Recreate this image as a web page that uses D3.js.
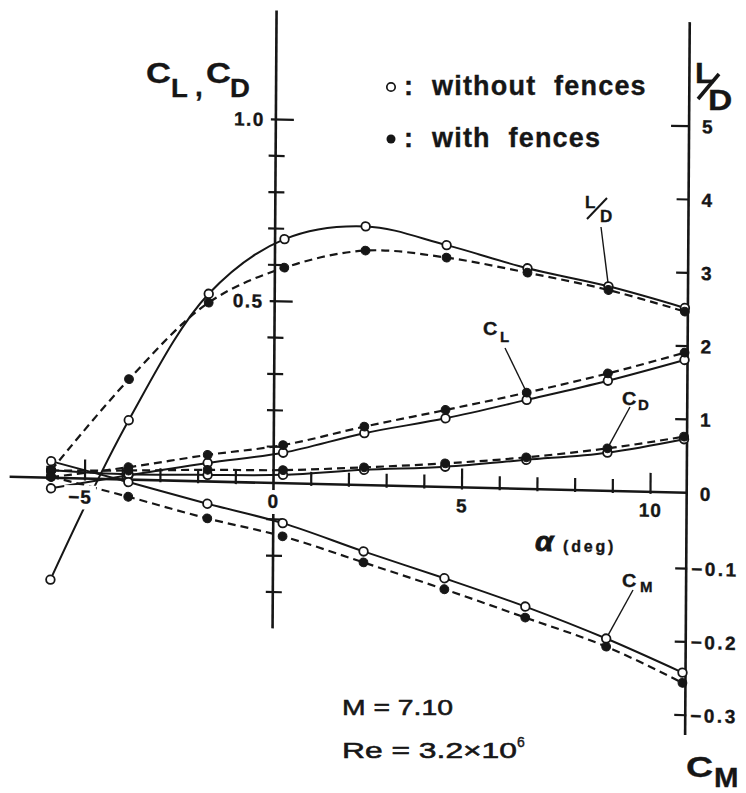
<!DOCTYPE html>
<html>
<head>
<meta charset="utf-8">
<script src="https://cdn.jsdelivr.net/npm/d3@7"></script>
<style>
  html, body { margin: 0; padding: 0; background: #fff; }
  svg { display: block; }
  text { font-family: "Liberation Sans", Arial, Helvetica, sans-serif; fill: #161616; stroke: #161616; stroke-width: 0.35; }
</style>
</head>
<body>
<svg id="chart" width="746" height="793"></svg>
<script>
// Angle of attack (deg) at which each run was taken
const alpha = [-5.9, -3.85, -1.75, 0.25, 2.4, 4.55, 6.7, 8.85, 10.88];

// Lift coefficient
const clWithout = [-0.029, 0.012, 0.051, 0.084, 0.143, 0.189, 0.245, 0.303, 0.365];
const clWith    = [0.002, 0.034, 0.073, 0.105, 0.161, 0.212, 0.265, 0.323, 0.385];
// Drag coefficient
const cdWithout = [0.021, 0.015, 0.018, 0.023, 0.042, 0.056, 0.080, 0.105, 0.147];
const cdWith    = [0.020, 0.025, 0.032, 0.036, 0.049, 0.065, 0.087, 0.117, 0.154];
// Lift-to-drag ratio
const ldWithout = [-1.39, 0.81, 2.56, 3.33, 3.53, 3.30, 3.01, 2.79, 2.52];
const ldWith    = [0.10, 1.37, 2.44, 2.94, 3.20, 3.13, 2.95, 2.74, 2.47];
// Pitching-moment coefficient
const cmWithout = [0.026, 0.000, -0.027, -0.051, -0.087, -0.121, -0.157, -0.198, -0.242];
const cmWith    = [0.005, -0.020, -0.047, -0.069, -0.102, -0.136, -0.172, -0.209, -0.256];

// Axis ticks and labels
const alphaTicks = [-6, -5, -4, -3, -2, -1, 1, 2, 3, 4, 5, 6, 7, 8, 9, 10];
const alphaMajor = [-5, 5, 10];
const alphaLabels = [-5, 0, 5, 10];
const coefTicks = [-0.3, -0.2, -0.1, 0.1, 0.2, 0.3, 0.4, 0.5, 0.6, 0.7, 0.8, 0.9, 1.0];
const coefLabels = [0.5, 1.0];
const ldTicks = [1, 2, 3, 4, 5];
const cmTicks = [-0.1, -0.2, -0.3];

const svg = d3.select('#chart');

// The drawing is laid out on a slightly skewed frame: origin at the
// intersection of the alpha axis and the C_L,C_D axis.
const origin = [273.5, 483];
const skB = 0.0235;   // slope of the alpha axis
const skC = -0.0065;  // lean of the vertical axes
function toLocal(X, Y) {
  const dx = X - origin[0], dy = Y - origin[1], det = 1 - skB * skC;
  return [(dx - skC * dy) / det, (dy - skB * dx) / det];
}

const x = d3.scaleLinear().domain([0, 10]).range([0, 377]);
const yC = d3.scaleLinear().domain([0, 1]).range([0, -363.5]);
const yLD = d3.scaleLinear().domain([0, 5]).range([0, -366.5]);
const yCM = d3.scaleLinear().domain([0, -0.3]).range([2.5, 222.5]);
const xRight = x(10.96);

const g = svg.append('g')
  .attr('transform', `translate(${origin[0]},${origin[1]}) matrix(1,${skB},${skC},1,0,0)`);

const ink = '#161616';

// ---- axes ----
const axes = g.append('g').attr('stroke', ink).attr('stroke-width', 2.6).attr('fill', 'none');
axes.append('line').attr('x1', x(-7.0)).attr('x2', xRight).attr('y1', 0).attr('y2', 0);
axes.append('line').attr('x1', 0).attr('x2', 0).attr('y1', yC(1.30)).attr('y2', yC(-0.40));
axes.append('line').attr('x1', xRight).attr('x2', xRight).attr('y1', yLD(6.42)).attr('y2', yCM(-0.327));

const ticks = g.append('g').attr('stroke', ink).attr('stroke-width', 2.2);
alphaTicks.forEach(t => {
  const major = alphaMajor.includes(t);
  ticks.append('line').attr('x1', x(t)).attr('x2', x(t)).attr('y1', 2).attr('y2', major ? -19 : -12);
});
coefTicks.forEach(t => {
  const major = coefLabels.some(l => Math.abs(l - t) < 1e-9);
  ticks.append('line').attr('y1', yC(t)).attr('y2', yC(t))
    .attr('x1', major ? -5 : -7).attr('x2', major ? 18 : 9);
});
ldTicks.forEach(t => {
  ticks.append('line').attr('y1', yLD(t)).attr('y2', yLD(t))
    .attr('x1', xRight - (t === 5 ? 18 : 12)).attr('x2', xRight);
});
cmTicks.forEach(t => {
  ticks.append('line').attr('y1', yCM(t)).attr('y2', yCM(t))
    .attr('x1', xRight - 11).attr('x2', xRight + 1);
});

// ---- curves ----
const series = [
  { vals: clWithout, scale: yC, filled: false, curve: d3.curveMonotoneX },
  { vals: clWith,    scale: yC, filled: true,  curve: d3.curveMonotoneX },
  { vals: cdWithout, scale: yC, filled: false, curve: d3.curveMonotoneX },
  { vals: cdWith,    scale: yC, filled: true,  curve: d3.curveMonotoneX },
  { vals: ldWithout, scale: yLD, filled: false, curve: d3.curveCatmullRom.alpha(0.5) },
  { vals: ldWith,    scale: yLD, filled: true,  curve: d3.curveCatmullRom.alpha(0.5) },
  { vals: cmWithout, scale: yCM, filled: false, curve: d3.curveMonotoneX },
  { vals: cmWith,    scale: yCM, filled: true,  curve: d3.curveMonotoneX }
];

const lineLayer = g.append('g').attr('fill', 'none').attr('stroke', ink);
series.forEach(s => {
  const line = d3.line().x(d => x(d[0])).y(d => s.scale(d[1])).curve(s.curve);
  lineLayer.append('path')
    .attr('d', line(d3.zip(alpha, s.vals)))
    .attr('stroke-width', s.filled ? 2.2 : 2.0)
    .attr('stroke-dasharray', s.filled ? '8,5' : null);
});

// ---- tick labels (knocked out over the lines) ----
const labelLayer = g.append('g');
function knockLabel(txt, px, py, anchor) {
  const grp = labelLayer.append('g');
  const t = grp.append('text').attr('x', px).attr('y', py)
    .attr('text-anchor', anchor).attr('font-size', 19).attr('font-weight', 'bold')
    .attr('letter-spacing', 1).text(txt);
  const bb = t.node().getBBox();
  grp.insert('rect', 'text').attr('x', bb.x - 4).attr('y', bb.y - 1)
    .attr('width', bb.width + 8).attr('height', bb.height + 3).attr('fill', '#fff').attr('stroke', 'none');
}
alphaLabels.forEach(t => {
  if (t < 0) knockLabel('\u2212' + Math.abs(t), x(t) + 7, 25, 'end');
  else knockLabel(String(t), x(t), 25, 'middle');
});

const axisText = g.append('g').attr('font-size', 19).attr('font-weight', 'bold').attr('letter-spacing', 1.5);
coefLabels.forEach(t => {
  axisText.append('text').attr('x', -11).attr('y', yC(t)).attr('dy', '0.36em')
    .attr('text-anchor', 'end').text(d3.format('.1f')(t));
});
ldTicks.forEach(t => {
  axisText.append('text').attr('x', xRight + 13).attr('y', yLD(t)).attr('dy', '0.36em').text(t);
});
axisText.append('text').attr('x', xRight + 13).attr('y', 1).attr('dy', '0.36em').text('0');
cmTicks.forEach(t => {
  axisText.append('text').attr('x', xRight + 5).attr('y', yCM(t)).attr('dy', '0.36em')
    .attr('letter-spacing', 2.5).text('\u2212' + d3.format('.1f')(Math.abs(t)));
});

// ---- markers ----
const markLayer = g.append('g');
series.forEach(s => {
  markLayer.selectAll(null).data(d3.zip(alpha, s.vals)).join('circle')
    .attr('cx', d => x(d[0])).attr('cy', d => s.scale(d[1]))
    .attr('r', s.filled ? 4.4 : 4.3)
    .attr('fill', s.filled ? ink : '#fff')
    .attr('stroke', ink).attr('stroke-width', s.filled ? 1 : 1.8);
});

// ---- leader lines from curve names to their curves ----
const leaders = [
  { from: [601, 227], a: alpha[7], v: ldWithout[7], scale: yLD },
  { from: [505, 348], a: alpha[6], v: clWith[6], scale: yC },
  { from: [630, 407], a: alpha[7], v: cdWith[7], scale: yC },
  { from: [633, 590], a: alpha[7], v: cmWithout[7], scale: yCM }
];
const leaderLayer = g.append('g').attr('stroke', ink).attr('stroke-width', 1.4);
leaders.forEach(l => {
  const p = toLocal(l.from[0], l.from[1]);
  const tx = x(l.a), ty = l.scale(l.v);
  const dx = p[0] - tx, dy = p[1] - ty, len = Math.hypot(dx, dy);
  leaderLayer.append('line').attr('x1', p[0]).attr('y1', p[1])
    .attr('x2', tx + dx / len * 4).attr('y2', ty + dy / len * 4);
});

// ---- text in page coordinates ----
const ann = svg.append('g');
function word(str, px, py, size, opts = {}) {
  const grp = ann.append('g').attr('transform', `translate(${px},${py}) scale(${opts.sx || 1},1)`);
  const t = grp.append('text').attr('font-size', size)
    .attr('font-weight', opts.weight || 'bold').text(str);
  if (opts.ls) t.attr('letter-spacing', opts.ls);
  if (opts.ws) t.attr('word-spacing', opts.ws);
  if (opts.italic) t.attr('font-style', 'italic');
  if (opts.sw !== undefined) t.style('stroke-width', opts.sw);
  return t;
}
function slash(x1, y1, x2, y2, w) {
  ann.append('line').attr('x1', x1).attr('y1', y1).attr('x2', x2).attr('y2', y2)
    .attr('stroke', ink).attr('stroke-width', w);
}

// left axis title C_L , C_D
word('C', 146, 83, 30, { sx: 1.15 });
word('L', 171, 97, 25, { sx: 1.1 });
word(',', 195, 96, 28);
word('C', 206, 83, 30, { sx: 1.15 });
word('D', 230, 97, 25, { sx: 1.1 });

// right axis title L/D
word('L', 695, 83, 30, { sx: 1.05 });
slash(698, 99, 719, 74, 3.6);
word('D', 708, 110, 30, { sx: 1.12 });

// lower right axis title C_M
word('C', 686, 777, 30, { sx: 1.25 });
word('M', 714, 787, 28, { sx: 1.05 });

// legend
ann.append('circle').attr('cx', 391).attr('cy', 87).attr('r', 4.2)
  .attr('fill', '#fff').attr('stroke', ink).attr('stroke-width', 1.7);
ann.append('circle').attr('cx', 391).attr('cy', 139).attr('r', 4.5).attr('fill', ink);
word(':', 404, 95, 27);
word(':', 404, 147, 27);
word('without fences', 432, 95, 27, { ls: 1.2, ws: 9 });
word('with fences', 432, 147, 27, { ls: 1.2, ws: 9 });

// alpha axis name
word('\u03b1', 535, 551, 27, { italic: true, sx: 1.1, sw: 0.8 });
word('(deg)', 563, 552, 16, { ls: 2.8 });

// curve names
word('L', 585, 208, 17);
slash(587, 219, 607, 198, 2);
word('D', 600, 222, 17);
word('C', 483, 335, 18, { sx: 1.1 });
word('L', 500, 342, 15);
word('C', 622, 405, 18, { sx: 1.1 });
word('D', 638, 410, 15);
word('C', 622, 587, 18, { sx: 1.1 });
word('M', 640, 592, 15);

// test conditions
word('M = 7.10', 342, 715, 22, { weight: 'normal', sw: 0.55 }).attr('textLength', 111).attr('lengthAdjust', 'spacingAndGlyphs');
word('Re = 3.2\u00d710', 342, 758, 22, { weight: 'normal', sw: 0.55 }).attr('textLength', 175).attr('lengthAdjust', 'spacingAndGlyphs');
word('6', 517, 747, 14, { weight: 'normal', sw: 0.4 });
</script>
</body>
</html>
